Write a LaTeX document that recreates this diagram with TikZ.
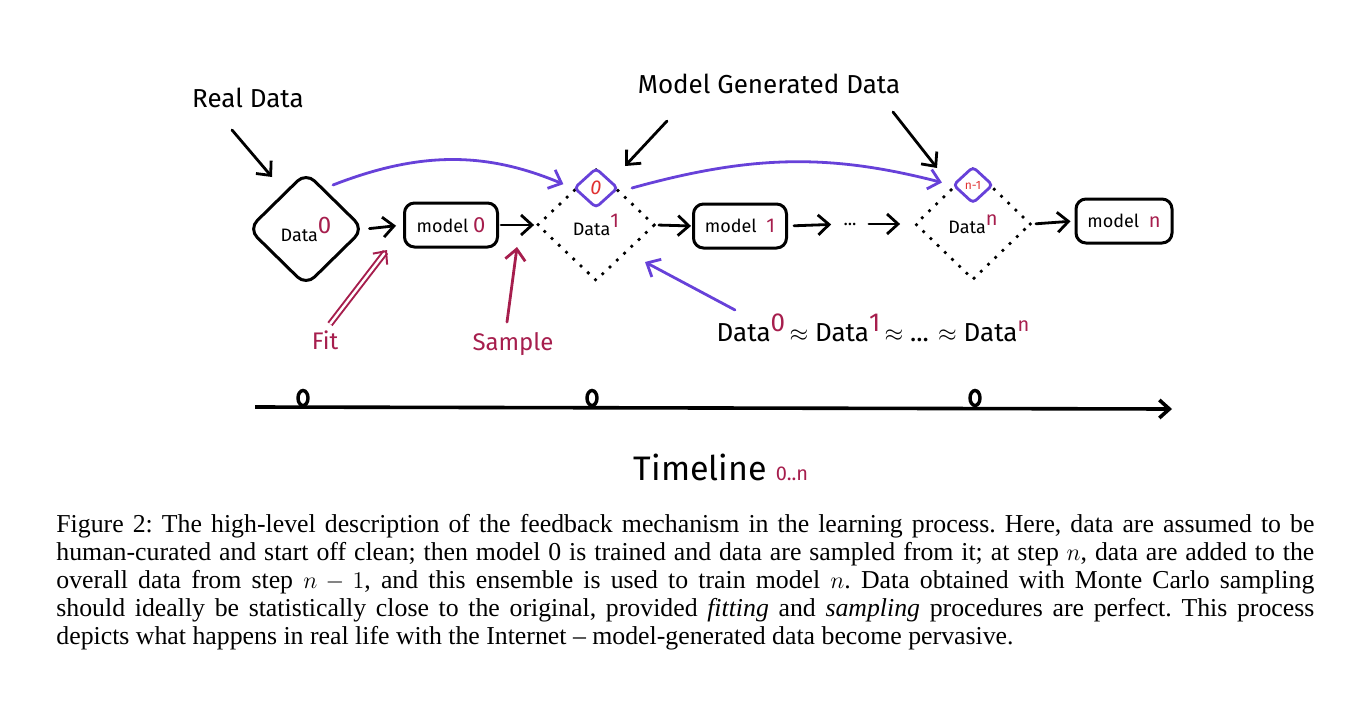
\documentclass[tikz,border=0pt]{standalone}
\usepackage{fontspec}
\setmainfont{Liberation Serif}
\newfontfamily\hand{Fira Sans}
\usetikzlibrary{arrows.meta,shapes.geometric,calc}
\definecolor{vio}{HTML}{6741D9}
\definecolor{mag}{HTML}{A61E4D}
\definecolor{redc}{HTML}{E03131}
\begin{document}
\begin{tikzpicture}[x=0.5pt,y=-0.5pt,
  lbl/.style={font=\hand\fontsize{13}{15}\selectfont, inner sep=0pt},
  arr/.style={line width=1.4pt, line cap=round, -{Straight Barb[length=5.5pt,width=10pt]}},
  varr/.style={arr, draw=vio},
  marr/.style={arr, draw=mag},
  bigdia/.style={diamond, minimum width=58pt, minimum height=57pt, inner sep=0pt, font=\hand\fontsize{9}{11}\selectfont},
  soliddia/.style={bigdia, draw, line width=1.5pt, rounded corners=6pt},
  dotdia/.style={bigdia, draw, line width=1.9pt, line cap=round, dash pattern=on 0pt off 5pt},
  smalldia/.style={diamond, draw=vio, fill=white, line width=1.4pt, rounded corners=2pt, inner sep=0pt, text=redc},
  modelbox/.style={draw, rectangle, rounded corners=5pt, line width=1.5pt, minimum width=46.5pt, minimum height=22pt, font=\hand\fontsize{9}{11}\selectfont},
  tick/.style={ellipse, draw, line width=1.7pt, minimum width=5pt, minimum height=7.5pt, inner sep=0pt}
]
\useasboundingbox (0,0) rectangle (1368,706);

% main chain
\node[soliddia] (d0) at (306,229) {Data\raisebox{4pt}{\textcolor{mag}{\fontsize{12}{12}\selectfont 0}}};
\node[modelbox] (m0) at (451,225) {model \textcolor{mag}{\fontsize{11}{11}\selectfont 0}};
\node[dotdia, minimum width=59pt, minimum height=56pt] (d1) at (596,225) {Data\raisebox{4pt}{\textcolor{mag}{\fontsize{10}{10}\selectfont 1}}};
\node[smalldia, minimum width=22pt, minimum height=20pt, font=\hand\itshape\fontsize{10}{10}\selectfont] (s0) at (596,188) {0};
\node[modelbox] (m1) at (740,226) {model \;\textcolor{mag}{\fontsize{10}{10}\selectfont 1}};
\node[font=\hand\fontsize{9}{11}\selectfont, inner sep=0pt] (dots) at (850,224) {...};
\node[dotdia, minimum width=58pt, minimum height=56pt] (dn) at (973,224) {Data\raisebox{4pt}{\textcolor{mag}{\fontsize{10}{10}\selectfont n}}};
\node[smalldia, minimum width=20pt, minimum height=18.5pt, font=\hand\fontsize{6}{6}\selectfont] (sn) at (973,185) {n-1};
\node[modelbox, minimum width=48pt] (mn) at (1124,221) {model \;\textcolor{mag}{\fontsize{10}{10}\selectfont n}};

\draw[arr, shorten <=2pt, shorten >=3.5pt] (d0.east) -- (m0.west);
\draw[arr, shorten <=1pt, shorten >=0.5pt] (m0.east) -- (d1.west);
\draw[arr, shorten <=1pt, shorten >=0.5pt] (d1.east) -- (m1.west);
\draw[arr, shorten <=3pt, shorten >=6pt] (m1.east) -- (dots.west);
\draw[arr, shorten <=6pt, shorten >=6.5pt] (dots.east) -- (dn.west);
\draw[arr, shorten <=1.5pt, shorten >=2pt] (dn.east) -- (mn.west);

% purple curves
\coordinate (p0s) at (333,185);
\coordinate (p1s) at (632,188);
\draw[varr, shorten >=5pt] (p0s) to[bend left=22] (s0.west);
\draw[varr, shorten >=5pt] (p1s) to[bend left=15] (sn.west);

% annotations
\node[lbl] (real) at (248,98) {Real Data};
\coordinate (realA) at (232,130);
\coordinate (realB) at (272,177);
\draw[arr] (realA) -- (realB);

\node[lbl] (mgd) at (769,84) {Model Generated Data};
\coordinate (mgA) at (667,121);
\coordinate (mgB) at (625,166);
\coordinate (mgC) at (893,112);
\coordinate (mgD) at (937,168);
\draw[arr] (mgA) -- (mgB);
\draw[arr] (mgC) -- (mgD);

\node[lbl, text=mag, font=\hand\fontsize{12}{14}\selectfont] (fit) at (325,340) {Fit};
\coordinate (fitB) at (387,250);
\draw[mag, line width=1pt, double=white, double distance=1.2pt, -{Straight Barb[length=5pt,width=9pt]}] ($(fit.north)+(5,-6)$) -- (fitB);

\node[lbl, text=mag, font=\hand\fontsize{12}{14}\selectfont] (samp) at (513,344) {Sample};
\coordinate (sampB) at (517,247);
\draw[marr] ($(samp.north)+(-6,-10)$) -- (sampB);

\node[lbl] (approx) at (873,328) {Data\raisebox{5pt}{\textcolor{mag}{0}}\,$\approx$ Data\raisebox{5pt}{\textcolor{mag}{1}}\,$\approx$ ... $\approx$ Data\raisebox{5pt}{\textcolor{mag}{\fontsize{10}{10}\selectfont n}}};
\coordinate (apA) at (735,310);
\coordinate (apB) at (645,262);
\draw[varr] (apA) -- (apB);

% timeline
\coordinate (t0) at (255,407);
\coordinate (t1) at (1172,409);
\draw[line width=1.8pt, -{Straight Barb[length=5pt,width=9pt]}] (t0) -- (t1);
\node[tick] (c0) at (303,398) {};
\node[tick] (c1) at (592,398) {};
\node[tick] (c2) at (975,398) {};
\node[font=\hand\fontsize{17}{20}\selectfont, inner sep=0pt] (tl) at (721,467) {Timeline \textcolor{mag}{\fontsize{10}{12}\selectfont 0..n}};

% caption
\node[anchor=north west, inner sep=0pt, text width=629pt, align=justify, font=\fontsize{12.9}{14}\selectfont\frenchspacing] (cap) at (56,514) {Figure 2: The high-level description of the feedback mechanism in the learning process. Here, data are assumed to be\linebreak human-curated and start off clean; then model 0 is trained and data are sampled from it; at step $n$, data are added to the\linebreak overall data from step $n-1$, and this ensemble is used to train model $n$. Data obtained with Monte Carlo sampling\linebreak should ideally be statistically close to the original, provided \emph{fitting} and \emph{sampling} procedures are perfect. This process\linebreak depicts what happens in real life with the Internet -- model-generated data become pervasive.};
\end{tikzpicture}
\end{document}
